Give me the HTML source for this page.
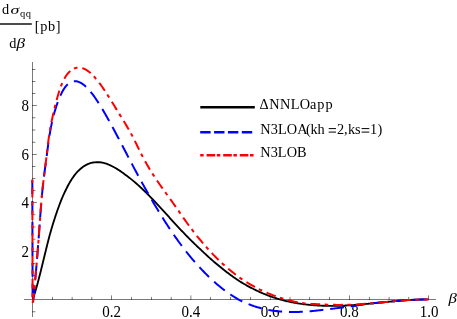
<!DOCTYPE html>
<html><head><meta charset="utf-8"><style>
html,body{margin:0;padding:0;background:#fff;}
svg{display:block;will-change:transform;font-family:"Liberation Serif",serif;font-size:14.3px;fill:#000}
</style></head><body>
<svg width="457" height="319" viewBox="0 0 457 319">
<rect width="457" height="319" fill="#fff"/>
<g fill="#000" shape-rendering="crispEdges">
<rect x="24" y="299" width="412.2" height="1" fill-opacity="0.52"/>
<rect x="32" y="62.2" width="1" height="255" fill-opacity="0.52"/>
</g>
<g fill="#000"><rect x="52" y="296.90" width="1" height="3.10" fill-opacity="0.50"/><rect x="71" y="296.90" width="1" height="3.10" fill-opacity="0.18"/><rect x="72" y="296.90" width="1" height="3.10" fill-opacity="0.32"/><rect x="91" y="296.90" width="1" height="3.10" fill-opacity="0.37"/><rect x="92" y="296.90" width="1" height="3.10" fill-opacity="0.13"/><rect x="111" y="295.40" width="1" height="4.60" fill-opacity="0.50"/><rect x="131" y="296.90" width="1" height="3.10" fill-opacity="0.50"/><rect x="151" y="296.90" width="1" height="3.10" fill-opacity="0.50"/><rect x="170" y="296.90" width="1" height="3.10" fill-opacity="0.13"/><rect x="171" y="296.90" width="1" height="3.10" fill-opacity="0.37"/><rect x="190" y="295.40" width="1" height="4.60" fill-opacity="0.32"/><rect x="191" y="295.40" width="1" height="4.60" fill-opacity="0.18"/><rect x="210" y="296.90" width="1" height="3.10" fill-opacity="0.50"/><rect x="230" y="296.90" width="1" height="3.10" fill-opacity="0.50"/><rect x="250" y="296.90" width="1" height="3.10" fill-opacity="0.50"/><rect x="269" y="295.40" width="1" height="4.60" fill-opacity="0.08"/><rect x="270" y="295.40" width="1" height="4.60" fill-opacity="0.42"/><rect x="289" y="296.90" width="1" height="3.10" fill-opacity="0.27"/><rect x="290" y="296.90" width="1" height="3.10" fill-opacity="0.23"/><rect x="309" y="296.90" width="1" height="3.10" fill-opacity="0.46"/><rect x="310" y="296.90" width="1" height="3.10" fill-opacity="0.04"/><rect x="329" y="296.90" width="1" height="3.10" fill-opacity="0.50"/><rect x="349" y="295.40" width="1" height="4.60" fill-opacity="0.50"/><rect x="368" y="296.90" width="1" height="3.10" fill-opacity="0.03"/><rect x="369" y="296.90" width="1" height="3.10" fill-opacity="0.47"/><rect x="388" y="296.90" width="1" height="3.10" fill-opacity="0.22"/><rect x="389" y="296.90" width="1" height="3.10" fill-opacity="0.28"/><rect x="408" y="296.90" width="1" height="3.10" fill-opacity="0.41"/><rect x="409" y="296.90" width="1" height="3.10" fill-opacity="0.09"/><rect x="428" y="295.40" width="1" height="4.60" fill-opacity="0.50"/><rect x="32" y="311" width="3.40" height="1" fill-opacity="0.38"/><rect x="32" y="312" width="3.40" height="1" fill-opacity="0.12"/><rect x="32" y="287" width="3.40" height="1" fill-opacity="0.50"/><rect x="32" y="275" width="3.40" height="1" fill-opacity="0.50"/><rect x="32" y="263" width="3.40" height="1" fill-opacity="0.50"/><rect x="32" y="251" width="4.90" height="1" fill-opacity="0.50"/><rect x="32" y="238" width="3.40" height="1" fill-opacity="0.12"/><rect x="32" y="239" width="3.40" height="1" fill-opacity="0.38"/><rect x="32" y="226" width="3.40" height="1" fill-opacity="0.25"/><rect x="32" y="227" width="3.40" height="1" fill-opacity="0.25"/><rect x="32" y="214" width="3.40" height="1" fill-opacity="0.38"/><rect x="32" y="215" width="3.40" height="1" fill-opacity="0.12"/><rect x="32" y="202" width="4.90" height="1" fill-opacity="0.50"/><rect x="32" y="190" width="3.40" height="1" fill-opacity="0.50"/><rect x="32" y="178" width="3.40" height="1" fill-opacity="0.50"/><rect x="32" y="166" width="3.40" height="1" fill-opacity="0.50"/><rect x="32" y="154" width="4.90" height="1" fill-opacity="0.50"/><rect x="32" y="141" width="3.40" height="1" fill-opacity="0.12"/><rect x="32" y="142" width="3.40" height="1" fill-opacity="0.38"/><rect x="32" y="129" width="3.40" height="1" fill-opacity="0.25"/><rect x="32" y="130" width="3.40" height="1" fill-opacity="0.25"/><rect x="32" y="117" width="3.40" height="1" fill-opacity="0.38"/><rect x="32" y="118" width="3.40" height="1" fill-opacity="0.12"/><rect x="32" y="105" width="4.90" height="1" fill-opacity="0.50"/><rect x="32" y="93" width="3.40" height="1" fill-opacity="0.50"/><rect x="32" y="81" width="3.40" height="1" fill-opacity="0.50"/><rect x="32" y="69" width="3.40" height="1" fill-opacity="0.50"/></g>
<g font-size="15"><text transform="translate(111.5,316.5) scale(1,1.08)" text-anchor="middle">0.2</text><text transform="translate(190.8,316.5) scale(1,1.08)" text-anchor="middle">0.4</text><text transform="translate(270.0,316.5) scale(1,1.08)" text-anchor="middle">0.6</text><text transform="translate(349.3,316.5) scale(1,1.08)" text-anchor="middle">0.8</text><text transform="translate(429.1,316.5) scale(1,1.08)" text-anchor="middle">1.0</text><text transform="translate(29,256.9) scale(1,1.08)" text-anchor="end">2</text><text transform="translate(29,208.3) scale(1,1.08)" text-anchor="end">4</text><text transform="translate(29,159.8) scale(1,1.08)" text-anchor="end">6</text><text transform="translate(29,111.3) scale(1,1.08)" text-anchor="end">8</text></g>
<text transform="translate(448.4,303.3) scale(1.12,1)" font-style="italic" font-size="15">β</text>
<!-- y title -->
<text x="2" y="13.7">d</text>
<text transform="translate(10.5,13.7) scale(1.25,0.93)" font-style="italic">σ</text>
<text x="20.0" y="17.0" font-size="10.5" letter-spacing="0.4">qq</text>
<path d="M0,24 H31.8" stroke="#000" stroke-width="1.4"/>
<text x="9.3" y="48.2">d</text>
<text transform="translate(16.6,48.2) scale(1.2,1)" font-style="italic">β</text>
<text x="34.7" y="30.6" letter-spacing="0.7">[pb]</text>
<!-- curves -->
<g fill="none" stroke-width="2" stroke-linejoin="round">
<path d="M32.70,299.50 L33.16,298.22 L33.61,296.88 L34.07,295.50 L34.52,294.07 L34.98,292.60 L35.43,291.09 L35.89,289.55 L36.34,287.96 L36.80,286.35 L37.25,284.70 L37.71,283.02 L38.16,281.31 L38.62,279.58 L39.07,277.82 L39.53,276.05 L39.98,274.25 L40.44,272.44 L40.89,270.61 L41.34,268.77 L41.80,266.92 L42.26,265.05 L42.71,263.19 L43.17,261.32 L43.62,259.44 L44.08,257.57 L44.53,255.69 L44.98,253.82 L45.44,251.96 L45.90,250.11 L46.35,248.26 L46.80,246.43 L47.26,244.61 L47.72,242.81 L48.17,241.02 L48.62,239.26 L49.08,237.52 L49.53,235.81 L49.99,234.12 L50.45,232.49 L50.90,230.89 L51.36,229.32 L51.81,227.77 L52.27,226.24 L52.72,224.74 L53.17,223.26 L53.63,221.80 L54.09,220.36 L54.54,218.94 L55.00,217.54 L55.45,216.16 L55.91,214.80 L56.36,213.45 L56.81,212.12 L57.27,210.81 L57.73,209.52 L58.18,208.24 L58.64,206.98 L59.09,205.74 L59.55,204.52 L60.00,203.32 L60.92,200.95 L61.85,198.68 L62.77,196.50 L63.69,194.41 L64.62,192.42 L65.54,190.51 L66.46,188.64 L67.39,186.79 L68.31,185.03 L69.23,183.36 L70.16,181.76 L71.08,180.24 L72.00,178.80 L72.93,177.44 L73.85,176.14 L74.77,174.92 L75.70,173.77 L76.62,172.69 L77.54,171.67 L78.47,170.72 L79.39,169.83 L80.31,168.99 L81.24,168.20 L82.16,167.46 L83.08,166.79 L84.01,166.16 L84.93,165.59 L85.85,165.06 L86.78,164.59 L87.70,164.16 L88.62,163.78 L89.55,163.44 L90.47,163.14 L91.39,162.88 L92.32,162.67 L93.24,162.51 L94.16,162.39 L95.09,162.30 L96.01,162.24 L96.93,162.21 L97.86,162.20 L98.78,162.22 L99.70,162.27 L100.63,162.38 L101.55,162.52 L102.47,162.70 L103.40,162.89 L104.32,163.11 L105.24,163.36 L106.17,163.63 L107.09,163.98 L108.01,164.34 L108.94,164.73 L109.86,165.14 L110.78,165.57 L111.71,166.02 L112.63,166.49 L113.55,166.99 L114.48,167.49 L115.40,168.01 L116.32,168.55 L117.25,169.10 L118.17,169.68 L119.09,170.27 L120.02,170.88 L120.94,171.51 L121.86,172.15 L122.78,172.82 L123.71,173.50 L124.63,174.19 L125.55,174.90 L126.48,175.60 L127.40,176.27 L128.32,176.96 L129.25,177.66 L130.17,178.38 L131.09,179.11 L132.02,179.85 L132.94,180.61 L133.86,181.38 L134.79,182.17 L135.71,182.96 L136.63,183.77 L137.56,184.59 L138.48,185.42 L139.40,186.26 L140.33,187.11 L141.25,187.97 L142.17,188.84 L143.10,189.73 L144.02,190.62 L144.94,191.51 L145.87,192.42 L146.79,193.34 L147.71,194.26 L148.64,195.19 L149.56,196.13 L150.48,197.08 L151.41,198.04 L152.33,199.00 L153.25,199.97 L154.18,200.94 L155.10,201.92 L156.02,202.91 L156.95,203.90 L157.87,204.89 L158.79,205.88 L159.72,206.88 L160.64,207.89 L161.56,208.89 L162.49,209.90 L163.41,210.91 L164.33,211.92 L165.26,212.93 L166.18,213.95 L167.10,214.96 L168.03,215.98 L168.95,216.99 L169.87,218.01 L170.80,219.02 L171.72,220.03 L172.64,221.04 L173.57,222.05 L174.49,223.06 L175.41,224.06 L176.34,225.07 L177.26,226.07 L178.18,227.06 L179.11,228.05 L180.03,229.04 L180.95,230.02 L181.88,231.00 L182.80,231.97 L183.72,232.94 L184.65,233.90 L185.57,234.86 L186.49,235.81 L187.42,236.75 L188.34,237.69 L189.26,238.62 L190.19,239.54 L191.11,240.46 L192.03,241.37 L192.96,242.28 L193.88,243.17 L194.80,244.07 L195.73,244.95 L196.65,245.83 L197.57,246.71 L198.50,247.57 L199.42,248.44 L200.34,249.30 L201.27,250.19 L202.19,251.07 L203.11,251.95 L204.04,252.82 L204.96,253.68 L205.88,254.53 L206.81,255.38 L207.73,256.22 L208.65,257.06 L209.58,257.89 L210.50,258.71 L211.42,259.53 L212.35,260.34 L213.27,261.14 L214.19,261.94 L215.12,262.73 L216.04,263.51 L216.96,264.29 L217.89,265.06 L218.81,265.82 L219.73,266.58 L220.66,267.33 L221.58,268.07 L222.50,268.81 L223.43,269.54 L224.35,270.27 L225.27,270.98 L226.20,271.69 L227.12,272.40 L228.04,273.10 L228.97,273.79 L229.89,274.47 L230.81,275.15 L231.74,275.82 L232.66,276.48 L233.58,277.14 L234.51,277.79 L235.43,278.43 L236.35,279.07 L237.28,279.70 L238.20,280.32 L239.12,280.94 L240.05,281.54 L240.97,282.10 L241.89,282.66 L242.82,283.21 L243.74,283.75 L244.66,284.28 L245.58,284.81 L246.51,285.33 L247.43,285.84 L248.35,286.35 L249.28,286.85 L250.20,287.34 L251.12,287.82 L252.05,288.30 L252.97,288.77 L253.89,289.24 L254.82,289.69 L255.74,290.14 L256.66,290.59 L257.59,291.02 L258.51,291.45 L259.43,291.87 L260.36,292.29 L261.28,292.70 L262.20,293.10 L263.13,293.49 L264.05,293.88 L264.97,294.26 L265.90,294.63 L266.82,294.99 L267.74,295.35 L268.67,295.70 L269.59,296.05 L270.51,296.38 L271.44,296.71 L272.36,297.03 L273.28,297.35 L274.21,297.65 L275.13,297.96 L276.05,298.25 L276.98,298.54 L277.90,298.82 L278.82,299.09 L279.75,299.36 L280.67,299.62 L281.59,299.87 L282.52,300.12 L283.44,300.36 L284.36,300.60 L285.29,300.82 L286.21,301.05 L287.13,301.26 L288.06,301.47 L288.98,301.68 L289.90,301.87 L290.83,302.07 L291.75,302.25 L292.67,302.43 L293.60,302.61 L294.52,302.78 L295.44,302.94 L296.37,303.10 L297.29,303.25 L298.21,303.40 L299.14,303.54 L300.06,303.68 L300.98,303.82 L301.91,303.95 L302.83,304.08 L303.75,304.21 L304.68,304.33 L305.60,304.44 L306.52,304.55 L307.45,304.65 L308.37,304.75 L309.29,304.85 L310.22,304.94 L311.14,305.03 L312.06,305.11 L312.99,305.19 L313.91,305.26 L314.83,305.33 L315.76,305.39 L316.68,305.45 L317.60,305.51 L318.53,305.56 L319.45,305.61 L320.37,305.65 L321.30,305.69 L322.22,305.73 L323.14,305.76 L324.07,305.79 L324.99,305.81 L325.91,305.83 L326.84,305.85 L327.76,305.86 L328.68,305.87 L329.61,305.88 L330.53,305.88 L331.45,305.88 L332.38,305.88 L333.30,305.88 L334.22,305.87 L335.15,305.86 L336.07,305.84 L336.99,305.82 L337.92,305.80 L338.84,305.78 L339.76,305.75 L340.69,305.72 L341.61,305.69 L342.53,305.66 L343.46,305.62 L344.38,305.58 L345.30,305.54 L346.23,305.50 L347.15,305.45 L348.07,305.40 L349.00,305.35 L349.92,305.30 L350.84,305.24 L351.77,305.18 L352.69,305.11 L353.61,305.05 L354.54,304.98 L355.46,304.91 L356.38,304.83 L357.31,304.76 L358.23,304.69 L359.15,304.61 L360.08,304.53 L361.00,304.45 L361.92,304.37 L362.85,304.29 L363.77,304.20 L364.69,304.12 L365.62,304.04 L366.54,303.95 L367.46,303.86 L368.38,303.77 L369.31,303.69 L370.23,303.60 L371.15,303.51 L372.08,303.41 L373.00,303.32 L373.92,303.23 L374.85,303.14 L375.77,303.05 L376.69,302.95 L377.62,302.86 L378.54,302.77 L379.46,302.67 L380.39,302.58 L381.31,302.49 L382.23,302.39 L383.16,302.30 L384.08,302.21 L385.00,302.11 L385.93,302.02 L386.85,301.93 L387.77,301.84 L388.70,301.74 L389.62,301.65 L390.54,301.56 L391.47,301.47 L392.39,301.38 L393.31,301.30 L394.24,301.21 L395.16,301.12 L396.08,301.04 L397.01,300.95 L397.93,300.87 L398.85,300.79 L399.78,300.71 L400.70,300.63 L401.62,300.56 L402.55,300.50 L403.47,300.43 L404.39,300.36 L405.32,300.30 L406.24,300.24 L407.16,300.18 L408.09,300.12 L409.01,300.06 L409.93,300.01 L410.86,299.96 L411.78,299.91 L412.70,299.86 L413.63,299.81 L414.55,299.76 L415.47,299.72 L416.40,299.68 L417.32,299.64 L418.24,299.61 L419.17,299.58 L420.09,299.55 L421.01,299.52 L421.94,299.49 L422.86,299.47 L423.78,299.45 L424.71,299.43 L425.63,299.42 L426.55,299.41 L427.48,299.40 L428.40,299.40" stroke="#000" stroke-width="1.85"/>
<path d="M32.3,177.6 L32.6,302 L33.10,302.00 L33.55,297.46 L34.00,292.85 L34.45,288.16 L34.89,283.36 L35.34,278.47 L35.79,273.45 L36.24,268.32 L36.69,263.05 L37.14,257.64 L37.58,252.08 L38.03,246.36 L38.48,240.47 L38.93,234.40 L39.38,228.19 L39.83,221.94 L40.27,215.77 L40.72,209.80 L41.17,204.13 L41.62,198.87 L42.07,194.00 L42.52,189.47 L42.96,185.25 L43.41,181.28 L43.86,177.53 L44.31,173.95 L44.76,170.50 L45.20,167.12 L45.65,163.79 L46.10,160.44 L46.55,157.05 L47.00,153.61 L47.45,150.16 L47.90,146.76 L48.34,143.44 L48.79,140.26 L49.24,137.24 L49.69,134.40 L50.14,131.72 L50.59,129.20 L51.03,126.83 L51.48,124.59 L51.93,122.47 L52.38,120.48 L52.83,118.58 L53.27,116.78 L53.72,115.07 L54.17,113.43 L54.62,111.85 L55.07,110.33 L55.52,108.86 L55.97,107.43 L56.41,106.04 L56.86,104.70 L57.31,103.40 L57.76,102.15 L58.21,100.93 L58.66,99.76 L59.10,98.63 L59.55,97.54 L60.00,96.50 L60.92,94.46 L61.85,92.59 L62.77,90.88 L63.69,89.33 L64.62,87.93 L65.54,86.67 L66.46,85.56 L67.39,84.59 L68.31,83.74 L69.23,83.03 L70.16,82.44 L71.08,81.97 L72.00,81.62 L72.93,81.37 L73.85,81.22 L74.77,81.17 L75.70,81.21 L76.62,81.34 L77.54,81.55 L78.47,81.84 L79.39,82.21 L80.31,82.64 L81.24,83.15 L82.16,83.72 L83.08,84.36 L84.01,85.07 L84.93,85.84 L85.85,86.67 L86.78,87.55 L87.70,88.49 L88.62,89.49 L89.55,90.53 L90.47,91.63 L91.39,92.77 L92.32,93.95 L93.24,95.18 L94.16,96.45 L95.09,97.76 L96.01,99.10 L96.93,100.47 L97.86,101.88 L98.78,103.32 L99.70,104.78 L100.63,106.27 L101.55,107.79 L102.47,109.32 L103.40,110.87 L104.32,112.44 L105.24,114.03 L106.17,115.64 L107.09,117.26 L108.01,118.89 L108.94,120.54 L109.86,122.21 L110.78,123.88 L111.71,125.57 L112.63,127.27 L113.55,128.98 L114.48,130.70 L115.40,132.43 L116.32,134.17 L117.25,135.91 L118.17,137.66 L119.09,139.42 L120.02,141.18 L120.94,142.94 L121.86,144.71 L122.78,146.48 L123.71,148.25 L124.63,150.03 L125.55,151.80 L126.48,153.57 L127.40,155.34 L128.32,157.11 L129.25,158.88 L130.17,160.64 L131.09,162.39 L132.02,164.15 L132.94,165.89 L133.86,167.63 L134.79,169.36 L135.71,171.08 L136.63,172.80 L137.56,174.51 L138.48,176.21 L139.40,177.91 L140.33,179.60 L141.25,181.28 L142.17,182.95 L143.10,184.62 L144.02,186.27 L144.94,187.92 L145.87,189.56 L146.79,191.19 L147.71,192.82 L148.64,194.43 L149.56,196.04 L150.48,197.64 L151.41,199.23 L152.33,200.81 L153.25,202.38 L154.18,203.94 L155.10,205.49 L156.02,207.04 L156.95,208.57 L157.87,210.09 L158.79,211.61 L159.72,213.11 L160.64,214.61 L161.56,216.09 L162.49,217.57 L163.41,219.03 L164.33,220.49 L165.26,221.93 L166.18,223.36 L167.10,224.79 L168.03,226.20 L168.95,227.60 L169.87,228.99 L170.80,230.37 L171.72,231.73 L172.64,233.09 L173.57,234.44 L174.49,235.77 L175.41,237.09 L176.34,238.40 L177.26,239.70 L178.18,240.98 L179.11,242.26 L180.03,243.52 L180.95,244.77 L181.88,246.01 L182.80,247.23 L183.72,248.44 L184.65,249.64 L185.57,250.83 L186.49,252.00 L187.42,253.16 L188.34,254.31 L189.26,255.44 L190.19,256.57 L191.11,257.68 L192.03,258.77 L192.96,259.85 L193.88,260.93 L194.80,261.98 L195.73,263.03 L196.65,264.06 L197.57,265.08 L198.50,266.09 L199.42,267.08 L200.34,268.08 L201.27,269.08 L202.19,270.06 L203.11,271.04 L204.04,272.00 L204.96,272.95 L205.88,273.89 L206.81,274.82 L207.73,275.73 L208.65,276.63 L209.58,277.52 L210.50,278.40 L211.42,279.27 L212.35,280.12 L213.27,280.96 L214.19,281.79 L215.12,282.61 L216.04,283.42 L216.96,284.21 L217.89,284.99 L218.81,285.76 L219.73,286.52 L220.66,287.27 L221.58,288.01 L222.50,288.73 L223.43,289.44 L224.35,290.14 L225.27,290.83 L226.20,291.51 L227.12,292.18 L228.04,292.83 L228.97,293.48 L229.89,294.11 L230.81,294.73 L231.74,295.34 L232.66,295.94 L233.58,296.53 L234.51,297.10 L235.43,297.67 L236.35,298.22 L237.28,298.77 L238.20,299.30 L239.12,299.82 L240.05,300.33 L240.97,300.79 L241.89,301.24 L242.82,301.67 L243.74,302.10 L244.66,302.52 L245.58,302.92 L246.51,303.32 L247.43,303.70 L248.35,304.08 L249.28,304.44 L250.20,304.80 L251.12,305.14 L252.05,305.48 L252.97,305.80 L253.89,306.12 L254.82,306.42 L255.74,306.72 L256.66,307.01 L257.59,307.28 L258.51,307.55 L259.43,307.81 L260.36,308.06 L261.28,308.31 L262.20,308.54 L263.13,308.76 L264.05,308.98 L264.97,309.19 L265.90,309.39 L266.82,309.58 L267.74,309.76 L268.67,309.94 L269.59,310.11 L270.51,310.27 L271.44,310.42 L272.36,310.56 L273.28,310.70 L274.21,310.83 L275.13,310.95 L276.05,311.07 L276.98,311.18 L277.90,311.28 L278.82,311.37 L279.75,311.46 L280.67,311.54 L281.59,311.61 L282.52,311.68 L283.44,311.74 L284.36,311.80 L285.29,311.85 L286.21,311.89 L287.13,311.93 L288.06,311.96 L288.98,311.98 L289.90,312.00 L290.83,312.02 L291.75,312.02 L292.67,312.03 L293.60,312.03 L294.52,312.02 L295.44,312.01 L296.37,311.99 L297.29,311.97 L298.21,311.94 L299.14,311.91 L300.06,311.87 L300.98,311.83 L301.91,311.79 L302.83,311.74 L303.75,311.69 L304.68,311.63 L305.60,311.57 L306.52,311.51 L307.45,311.44 L308.37,311.37 L309.29,311.30 L310.22,311.22 L311.14,311.14 L312.06,311.05 L312.99,310.97 L313.91,310.87 L314.83,310.78 L315.76,310.68 L316.68,310.58 L317.60,310.48 L318.53,310.38 L319.45,310.27 L320.37,310.17 L321.30,310.07 L322.22,309.97 L323.14,309.86 L324.07,309.76 L324.99,309.65 L325.91,309.54 L326.84,309.43 L327.76,309.32 L328.68,309.20 L329.61,309.09 L330.53,308.97 L331.45,308.86 L332.38,308.74 L333.30,308.62 L334.22,308.50 L335.15,308.38 L336.07,308.26 L336.99,308.13 L337.92,308.01 L338.84,307.89 L339.76,307.77 L340.69,307.64 L341.61,307.52 L342.53,307.40 L343.46,307.28 L344.38,307.15 L345.30,307.03 L346.23,306.91 L347.15,306.78 L348.07,306.66 L349.00,306.54 L349.92,306.42 L350.84,306.29 L351.77,306.15 L352.69,306.02 L353.61,305.89 L354.54,305.76 L355.46,305.62 L356.38,305.49 L357.31,305.36 L358.23,305.23 L359.15,305.10 L360.08,304.97 L361.00,304.84 L361.92,304.72 L362.85,304.59 L363.77,304.46 L364.69,304.34 L365.62,304.21 L366.54,304.09 L367.46,303.96 L368.38,303.84 L369.31,303.72 L370.23,303.60 L371.15,303.48 L372.08,303.36 L373.00,303.24 L373.92,303.13 L374.85,303.01 L375.77,302.90 L376.69,302.80 L377.62,302.70 L378.54,302.60 L379.46,302.50 L380.39,302.41 L381.31,302.31 L382.23,302.22 L383.16,302.14 L384.08,302.05 L385.00,301.97 L385.93,301.88 L386.85,301.80 L387.77,301.72 L388.70,301.64 L389.62,301.57 L390.54,301.49 L391.47,301.42 L392.39,301.34 L393.31,301.27 L394.24,301.20 L395.16,301.12 L396.08,301.04 L397.01,300.95 L397.93,300.87 L398.85,300.79 L399.78,300.71 L400.70,300.63 L401.62,300.56 L402.55,300.50 L403.47,300.43 L404.39,300.36 L405.32,300.30 L406.24,300.24 L407.16,300.18 L408.09,300.12 L409.01,300.06 L409.93,300.01 L410.86,299.96 L411.78,299.91 L412.70,299.86 L413.63,299.81 L414.55,299.76 L415.47,299.72 L416.40,299.68 L417.32,299.64 L418.24,299.61 L419.17,299.58 L420.09,299.55 L421.01,299.52 L421.94,299.49 L422.86,299.47 L423.78,299.45 L424.71,299.43 L425.63,299.42 L426.55,299.41 L427.48,299.40 L428.40,299.40" stroke="#0000ff" stroke-dasharray="13.8 6.88" stroke-dashoffset="17.96"/>
<path d="M32.3,177.6 L32.6,302 L33.10,302.00 L33.55,297.36 L34.00,292.70 L34.45,287.98 L34.89,283.19 L35.34,278.33 L35.79,273.37 L36.24,268.30 L36.69,263.09 L37.14,257.75 L37.58,252.24 L38.03,246.56 L38.48,240.69 L38.93,234.61 L39.38,228.35 L39.83,222.04 L40.27,215.81 L40.72,209.77 L41.17,204.07 L41.62,198.79 L42.07,193.93 L42.52,189.43 L42.96,185.23 L43.41,181.28 L43.86,177.52 L44.31,173.91 L44.76,170.39 L45.20,166.90 L45.65,163.39 L46.10,159.81 L46.55,156.10 L47.00,152.28 L47.45,148.46 L47.90,144.71 L48.34,141.12 L48.79,137.78 L49.24,134.68 L49.69,131.80 L50.14,129.11 L50.59,126.59 L51.03,124.21 L51.48,121.95 L51.93,119.79 L52.38,117.69 L52.83,115.64 L53.27,113.63 L53.72,111.66 L54.17,109.74 L54.62,107.86 L55.07,106.03 L55.52,104.24 L55.97,102.49 L56.41,100.79 L56.86,99.14 L57.31,97.53 L57.76,95.97 L58.21,94.46 L58.66,92.99 L59.10,91.58 L59.55,90.21 L60.00,88.89 L60.92,86.33 L61.85,83.99 L62.77,81.86 L63.69,79.93 L64.62,78.20 L65.54,76.65 L66.46,75.27 L67.39,74.04 L68.31,72.95 L69.23,71.98 L70.16,71.13 L71.08,70.38 L72.00,69.73 L72.93,69.16 L73.85,68.69 L74.77,68.29 L75.70,67.99 L76.62,67.77 L77.54,67.62 L78.47,67.56 L79.39,67.57 L80.31,67.66 L81.24,67.83 L82.16,68.06 L83.08,68.36 L84.01,68.73 L84.93,69.17 L85.85,69.67 L86.78,70.23 L87.70,70.85 L88.62,71.52 L89.55,72.26 L90.47,73.05 L91.39,73.88 L92.32,74.77 L93.24,75.71 L94.16,76.69 L95.09,77.72 L96.01,78.79 L96.93,79.90 L97.86,81.05 L98.78,82.24 L99.70,83.46 L100.63,84.71 L101.55,85.99 L102.47,87.30 L103.40,88.64 L104.32,90.01 L105.24,91.39 L106.17,92.80 L107.09,94.23 L108.01,95.67 L108.94,97.13 L109.86,98.61 L110.78,100.09 L111.71,101.58 L112.63,103.08 L113.55,104.59 L114.48,106.10 L115.40,107.61 L116.32,109.13 L117.25,110.64 L118.17,112.14 L119.09,113.64 L120.02,115.14 L120.94,116.62 L121.86,118.11 L122.78,119.59 L123.71,121.08 L124.63,122.58 L125.55,124.09 L126.48,125.62 L127.40,127.17 L128.32,128.74 L129.25,130.35 L130.17,131.98 L131.09,133.66 L132.02,135.38 L132.94,137.14 L133.86,138.95 L134.79,140.79 L135.71,142.66 L136.63,144.55 L137.56,146.45 L138.48,148.34 L139.40,150.22 L140.33,152.09 L141.25,153.93 L142.17,155.73 L143.10,157.49 L144.02,159.22 L144.94,160.91 L145.87,162.57 L146.79,164.20 L147.71,165.80 L148.64,167.37 L149.56,168.91 L150.48,170.43 L151.41,171.92 L152.33,173.39 L153.25,174.84 L154.18,176.26 L155.10,177.67 L156.02,179.06 L156.95,180.43 L157.87,181.78 L158.79,183.12 L159.72,184.45 L160.64,185.77 L161.56,187.08 L162.49,188.38 L163.41,189.67 L164.33,190.95 L165.26,192.23 L166.18,193.51 L167.10,194.78 L168.03,196.06 L168.95,197.33 L169.87,198.61 L170.80,199.89 L171.72,201.17 L172.64,202.47 L173.57,203.76 L174.49,205.07 L175.41,206.38 L176.34,207.71 L177.26,209.03 L178.18,210.36 L179.11,211.69 L180.03,213.02 L180.95,214.35 L181.88,215.68 L182.80,217.00 L183.72,218.32 L184.65,219.63 L185.57,220.94 L186.49,222.23 L187.42,223.51 L188.34,224.79 L189.26,226.04 L190.19,227.29 L191.11,228.52 L192.03,229.73 L192.96,230.94 L193.88,232.13 L194.80,233.30 L195.73,234.47 L196.65,235.62 L197.57,236.76 L198.50,237.88 L199.42,239.00 L200.34,240.11 L201.27,241.22 L202.19,242.33 L203.11,243.42 L204.04,244.50 L204.96,245.57 L205.88,246.63 L206.81,247.67 L207.73,248.70 L208.65,249.72 L209.58,250.73 L210.50,251.73 L211.42,252.71 L212.35,253.68 L213.27,254.65 L214.19,255.60 L215.12,256.54 L216.04,257.46 L216.96,258.38 L217.89,259.29 L218.81,260.18 L219.73,261.06 L220.66,261.94 L221.58,262.80 L222.50,263.65 L223.43,264.49 L224.35,265.32 L225.27,266.14 L226.20,266.95 L227.12,267.75 L228.04,268.54 L228.97,269.32 L229.89,270.09 L230.81,270.85 L231.74,271.60 L232.66,272.34 L233.58,273.07 L234.51,273.79 L235.43,274.50 L236.35,275.20 L237.28,275.89 L238.20,276.58 L239.12,277.25 L240.05,277.92 L240.97,278.55 L241.89,279.17 L242.82,279.78 L243.74,280.38 L244.66,280.97 L245.58,281.56 L246.51,282.14 L247.43,282.70 L248.35,283.26 L249.28,283.82 L250.20,284.36 L251.12,284.89 L252.05,285.42 L252.97,285.94 L253.89,286.45 L254.82,286.95 L255.74,287.44 L256.66,287.93 L257.59,288.41 L258.51,288.88 L259.43,289.34 L260.36,289.79 L261.28,290.24 L262.20,290.68 L263.13,291.11 L264.05,291.54 L264.97,291.95 L265.90,292.36 L266.82,292.76 L267.74,293.16 L268.67,293.55 L269.59,293.93 L270.51,294.30 L271.44,294.67 L272.36,295.02 L273.28,295.38 L274.21,295.72 L275.13,296.06 L276.05,296.39 L276.98,296.72 L277.90,297.03 L278.82,297.35 L279.75,297.65 L280.67,297.95 L281.59,298.24 L282.52,298.53 L283.44,298.81 L284.36,299.08 L285.29,299.35 L286.21,299.61 L287.13,299.86 L288.06,300.11 L288.98,300.35 L289.90,300.59 L290.83,300.82 L291.75,301.04 L292.67,301.26 L293.60,301.48 L294.52,301.68 L295.44,301.88 L296.37,302.08 L297.29,302.27 L298.21,302.46 L299.14,302.64 L300.06,302.81 L300.98,302.98 L301.91,303.09 L302.83,303.19 L303.75,303.29 L304.68,303.38 L305.60,303.47 L306.52,303.56 L307.45,303.63 L308.37,303.71 L309.29,303.77 L310.22,303.84 L311.14,303.90 L312.06,303.95 L312.99,304.00 L313.91,304.05 L314.83,304.09 L315.76,304.12 L316.68,304.16 L317.60,304.19 L318.53,304.21 L319.45,304.23 L320.37,304.27 L321.30,304.33 L322.22,304.39 L323.14,304.45 L324.07,304.50 L324.99,304.55 L325.91,304.60 L326.84,304.64 L327.76,304.68 L328.68,304.72 L329.61,304.75 L330.53,304.78 L331.45,304.80 L332.38,304.82 L333.30,304.84 L334.22,304.86 L335.15,304.87 L336.07,304.88 L336.99,304.88 L337.92,304.89 L338.84,304.88 L339.76,304.88 L340.69,304.88 L341.61,304.87 L342.53,304.87 L343.46,304.87 L344.38,304.86 L345.30,304.85 L346.23,304.84 L347.15,304.83 L348.07,304.81 L349.00,304.79 L349.92,304.77 L350.84,304.73 L351.77,304.69 L352.69,304.64 L353.61,304.59 L354.54,304.54 L355.46,304.49 L356.38,304.43 L357.31,304.38 L358.23,304.32 L359.15,304.26 L360.08,304.20 L361.00,304.14 L361.92,304.07 L362.85,304.01 L363.77,303.94 L364.69,303.87 L365.62,303.80 L366.54,303.73 L367.46,303.66 L368.38,303.58 L369.31,303.51 L370.23,303.43 L371.15,303.36 L372.08,303.28 L373.00,303.20 L373.92,303.12 L374.85,303.04 L375.77,302.96 L376.69,302.89 L377.62,302.81 L378.54,302.73 L379.46,302.64 L380.39,302.56 L381.31,302.47 L382.23,302.39 L383.16,302.30 L384.08,302.21 L385.00,302.12 L385.93,302.03 L386.85,301.94 L387.77,301.85 L388.70,301.76 L389.62,301.67 L390.54,301.58 L391.47,301.49 L392.39,301.40 L393.31,301.30 L394.24,301.21 L395.16,301.12 L396.08,301.04 L397.01,300.95 L397.93,300.87 L398.85,300.79 L399.78,300.71 L400.70,300.63 L401.62,300.56 L402.55,300.50 L403.47,300.43 L404.39,300.36 L405.32,300.30 L406.24,300.24 L407.16,300.18 L408.09,300.12 L409.01,300.06 L409.93,300.01 L410.86,299.96 L411.78,299.91 L412.70,299.86 L413.63,299.81 L414.55,299.76 L415.47,299.72 L416.40,299.68 L417.32,299.64 L418.24,299.61 L419.17,299.58 L420.09,299.55 L421.01,299.52 L421.94,299.49 L422.86,299.47 L423.78,299.45 L424.71,299.43 L425.63,299.42 L426.55,299.41 L427.48,299.40 L428.40,299.40" stroke="#ff0000" stroke-dasharray="9.8 4.5 3.6 4.83" stroke-dashoffset="12.51"/>
</g>
<!-- legend -->
<g fill="none" stroke-width="2.4">
<path d="M200.3,107.2 H254.8" stroke="#000"/>
<path d="M200.2,132.3 H254.2" stroke="#0000ff" stroke-dasharray="10.4 3.47"/>
<path d="M200.2,155.3 H254.2" stroke="#ff0000" stroke-dasharray="3.5 2.9 8.6 1.6"/>
</g>
<text x="259.6" y="109.4" letter-spacing="0.4">ΔNNLO</text><text x="309.9" y="109.4" letter-spacing="1.1">app</text>
<g>
<text x="260.3" y="134" letter-spacing="0.08">N3LOA</text>
<text x="306.0" y="134">(</text>
<text x="310.4" y="134">kh</text>
<text x="336.9" y="134">2</text>
<text x="344.0" y="134">,</text>
<text x="347.9" y="134">k</text>
<text x="354.9" y="134">s</text>
<text x="369.9" y="134">1</text>
<text x="377.6" y="134">)</text>
<path d="M328.7,128.6 H336 M328.7,132.1 H336 M361.6,128.6 H369.3 M361.6,132.1 H369.3" stroke="#000" stroke-width="1" fill="none"/>
</g>
<text x="260.3" y="157.1" letter-spacing="0.05">N3LOB</text>
</svg>
</body></html>
